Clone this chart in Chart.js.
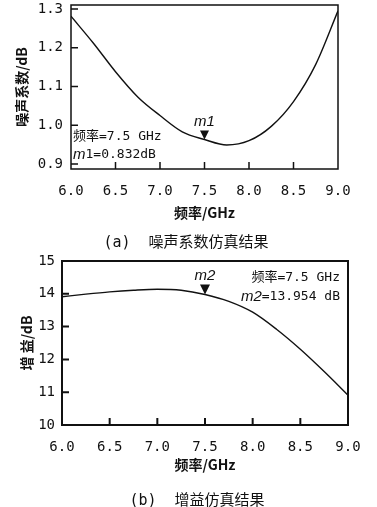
<!DOCTYPE html>
<html>
<head>
<meta charset="utf-8">
<script src="https://cdn.jsdelivr.net/npm/chart.js@4.4.1/dist/chart.umd.min.js"></script>
<style>
html, body { margin: 0; padding: 0; background: #fff; }
.box { position: absolute; left: 0; width: 377px; }
.caption {
    position: absolute;
    white-space: pre;
    transform: translate(-50%, -50%);
    font: 15px "DejaVu Sans Mono", "Noto Sans CJK SC";
    color: #111;
}
</style>
</head>
<body>
<div class="box" style="top:0;height:250px"><canvas id="nfChart" width="377" height="250"></canvas></div>
<div class="box" style="top:250px;height:257px"><canvas id="gainChart" width="377" height="257"></canvas></div>
<div class="caption" style="left:186px;top:240px">(a)  噪声系数仿真结果</div>
<div class="caption" style="left:197px;top:498px">(b)  增益仿真结果</div>
<script>
// frequency points (GHz)
const freqs = [6.0, 6.25, 6.5, 6.75, 7.0, 7.25, 7.5, 7.75, 8.0, 8.25, 8.5, 8.75, 9.0];
// noise figure (dB)
const noiseFigure = [1.281, 1.212, 1.138, 1.073, 1.025, 0.983, 0.963, 0.949, 0.960, 0.997, 1.061, 1.157, 1.295];
// gain (dB)
const gain = [13.91, 13.99, 14.06, 14.11, 14.14, 14.11, 13.98, 13.77, 13.44, 12.92, 12.31, 11.63, 10.91];

const xTicks = [6.0, 6.5, 7.0, 7.5, 8.0, 8.5, 9.0];
const nfTicks = [0.9, 1.0, 1.1, 1.2, 1.3];
const gainTicks = [10, 11, 12, 13, 14, 15];

const markerFreq = 7.5;
const nfMarker = 0.963;
const gainMarker = 13.98;

const INK = '#111';
const MONO = '"DejaVu Sans Mono", "Noto Sans CJK SC"';
const CJK = '"Noto Sans CJK SC", "DejaVu Sans"';

// draw text made of several pieces with their own fonts
function drawRich(ctx, parts, x, y, align) {
    let total = 0;
    parts.forEach(p => { ctx.font = p[1]; total += ctx.measureText(p[0]).width; });
    let cx = align === 'right' ? x - total : (align === 'center' ? x - total / 2 : x);
    ctx.textAlign = 'left';
    ctx.textBaseline = 'middle';
    parts.forEach(p => {
        ctx.font = p[1];
        ctx.fillText(p[0], cx, y);
        cx += ctx.measureText(p[0]).width;
    });
}

// box around plot area + short ticks pointing inward
const framePlugin = {
    id: 'frame',
    afterDatasetsDraw(chart, args, opts) {
        const { ctx, chartArea: a, scales } = chart;
        ctx.save();
        ctx.strokeStyle = INK;
        ctx.lineWidth = opts.width;
        ctx.strokeRect(a.left, a.top, a.right - a.left, a.bottom - a.top);
        ctx.beginPath();
        scales.x.ticks.forEach(t => {
            const px = scales.x.getPixelForValue(t.value);
            if (px > a.left + 2 && px < a.right - 2) {
                ctx.moveTo(px, a.bottom);
                ctx.lineTo(px, a.bottom - opts.tick);
            }
        });
        scales.y.ticks.forEach(t => {
            const py = scales.y.getPixelForValue(t.value);
            if (py > a.top + 2 && py < a.bottom - 2) {
                ctx.moveTo(a.left, py);
                ctx.lineTo(a.left + opts.tick, py);
            }
        });
        ctx.stroke();
        ctx.restore();
    }
};

// marker triangle + label + readout text
const markerPlugin = {
    id: 'marker',
    afterDraw(chart, args, opts) {
        const { ctx, chartArea: a, scales } = chart;
        const px = scales.x.getPixelForValue(opts.x);
        const py = scales.y.getPixelForValue(opts.y);
        const s = opts.size;
        ctx.save();
        ctx.fillStyle = INK;
        ctx.beginPath();
        ctx.moveTo(px, py);
        ctx.lineTo(px - s / 2, py - s);
        ctx.lineTo(px + s / 2, py - s);
        ctx.closePath();
        ctx.fill();
        drawRich(ctx, opts.label, px, py - s - 9, 'center');
        opts.notes.forEach(n => {
            const x = n.align === 'right' ? a.right - n.dx : a.left + n.dx;
            drawRich(ctx, n.parts, x, a.top + n.dy, n.align);
        });
        ctx.restore();
    }
};

function makeChart(id, cfg) {
    const points = freqs.map((f, i) => ({ x: f, y: cfg.values[i] }));
    return new Chart(document.getElementById(id).getContext('2d'), {
        type: 'line',
        data: {
            datasets: [{
                data: points,
                borderColor: INK,
                borderWidth: 1.4,
                pointRadius: 0,
                cubicInterpolationMode: 'monotone',
                fill: false
            }]
        },
        options: {
            responsive: false,
            animation: false,
            events: [],
            layout: { autoPadding: false, padding: cfg.padding },
            plugins: {
                legend: { display: false },
                tooltip: { enabled: false },
                frame: { width: cfg.frameWidth, tick: 7 },
                marker: cfg.marker
            },
            scales: {
                x: {
                    type: 'linear',
                    min: 6, max: 9,
                    grid: { display: false, drawTicks: false },
                    border: { display: false },
                    afterBuildTicks: s => { s.ticks = xTicks.map(v => ({ value: v })); },
                    afterFit: s => {
                        s.height = cfg.xHeight;
                        s.paddingLeft = 0;
                        s.paddingRight = 0;
                    },
                    ticks: {
                        color: INK,
                        padding: cfg.xTickPad,
                        maxRotation: 0,
                        font: { family: MONO, size: 14 },
                        callback: v => v.toFixed(1)
                    },
                    title: {
                        display: true,
                        text: '频率/GHz',
                        color: INK,
                        font: { family: CJK, size: 14, weight: 'bold' },
                        padding: { top: 0, bottom: cfg.xTitlePad }
                    }
                },
                y: {
                    min: cfg.yMin, max: cfg.yMax,
                    grid: { display: false, drawTicks: false },
                    border: { display: false },
                    afterBuildTicks: s => { s.ticks = cfg.yTicks.map(v => ({ value: v })); },
                    afterFit: s => {
                        s.width = cfg.yWidth;
                        s.paddingTop = 0;
                        s.paddingBottom = 0;
                    },
                    ticks: {
                        color: INK,
                        padding: cfg.yTickPad,
                        font: { family: MONO, size: 14 },
                        callback: cfg.yFormat
                    },
                    title: {
                        display: true,
                        text: cfg.yTitle,
                        color: INK,
                        font: { family: CJK, size: 14, weight: 'bold' },
                        padding: { top: cfg.yTitlePad, bottom: 0 }
                    }
                }
            }
        },
        plugins: [framePlugin, markerPlugin]
    });
}

const noteFont = '13px ' + MONO;
const italicFont = 'italic 15px "Liberation Sans", "DejaVu Sans"';

makeChart('nfChart', {
    values: noiseFigure,
    padding: { left: 0, top: 5, right: 39, bottom: 19 },
    frameWidth: 1.5,
    xHeight: 62,
    xTickPad: 14,
    xTitlePad: 9.6,
    yMin: 0.887, yMax: 1.310,
    yTicks: nfTicks,
    yFormat: v => v.toFixed(1),
    yWidth: 71,
    yTickPad: 8,
    yTitle: '噪声系数/dB',
    yTitlePad: 13.6,
    marker: {
        x: markerFreq, y: nfMarker, size: 9,
        label: [['m1', italicFont]],
        notes: [
            { align: 'left', dx: 2, dy: 132, parts: [['频率=7.5 GHz', noteFont]] },
            { align: 'left', dx: 2, dy: 150, parts: [['m', italicFont], ['1=0.832dB', noteFont]] }
        ]
    }
});

makeChart('gainChart', {
    values: gain,
    padding: { left: 0, top: 11, right: 29, bottom: 18 },
    frameWidth: 2,
    xHeight: 64,
    xTickPad: 13.5,
    xTitlePad: 15.6,
    yMin: 10, yMax: 15,
    yTicks: gainTicks,
    yFormat: v => String(v),
    yWidth: 62,
    yTickPad: 7,
    yTitle: '增 益/dB',
    yTitlePad: 18.6,
    marker: {
        x: markerFreq, y: gainMarker, size: 10,
        label: [['m2', italicFont]],
        notes: [
            { align: 'right', dx: 8, dy: 17, parts: [['频率=7.5 GHz', noteFont]] },
            { align: 'right', dx: 8, dy: 36, parts: [['m2', italicFont], ['=13.954 dB', noteFont]] }
        ]
    }
});
</script>
</body>
</html>
